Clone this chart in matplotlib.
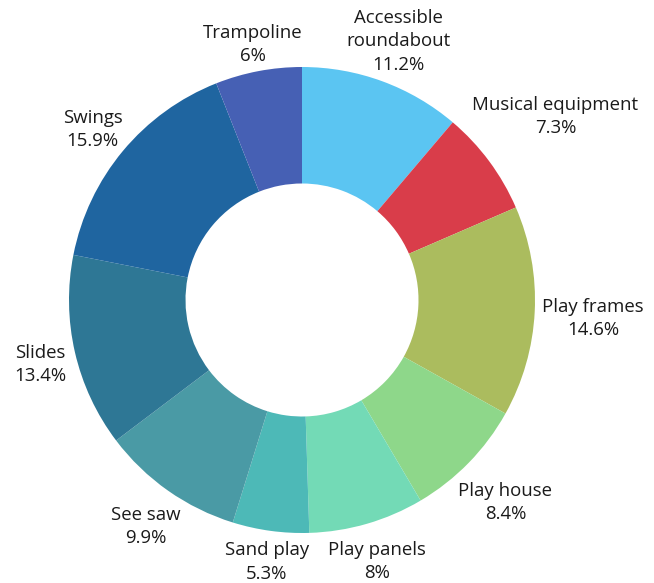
import numpy as np
import matplotlib
matplotlib.use("Agg")
import matplotlib.pyplot as plt

categories = ["Accessible\nroundabout", "Musical equipment", "Play frames", "Play house",
              "Play panels", "Sand play", "See saw", "Slides", "Swings", "Trampoline"]
shares = [11.2, 7.3, 14.6, 8.4, 8, 5.3, 9.9, 13.4, 15.9, 6]
share_labels = ["11.2%", "7.3%", "14.6%", "8.4%", "8%", "5.3%", "9.9%", "13.4%", "15.9%", "6%"]
colors = ["#5BC5F2", "#D93D4A", "#ABBC5E", "#8ED78A", "#73DAB6",
          "#4DB9B7", "#4A9AA5", "#2E7795", "#1F65A0", "#4660B4"]

W, H = 654, 583
DPI = 100
cx, cy = 302, 283          # ring centre in pixels (from bottom-left)
R_PX = 233                 # outer radius in pixels

plt.rcParams["font.family"] = ["Open Sans", "DejaVu Sans"]

fig = plt.figure(figsize=(W / DPI, H / DPI), dpi=DPI)
ax = fig.add_axes([0, 0, 1, 1])

wedges, _ = ax.pie(shares, colors=colors, startangle=90, counterclock=False,
                   radius=1.0, center=(0, 0), frame=False,
                   wedgeprops=dict(width=0.5, linewidth=0))
ax.set_xlim(-cx / R_PX, (W - cx) / R_PX)
ax.set_ylim(-cy / R_PX, (H - cy) / R_PX)
ax.set_aspect("auto")
ax.axis("off")

fig.canvas.draw()
renderer = fig.canvas.get_renderer()

total = sum(shares)
cum = 0.0
anchor_r = 240 / R_PX
baseline_drop = 4 / R_PX   # the text box centre sits a little above the glyphs
for name, val, lab in zip(categories, shares, share_labels):
    mid = (cum + val / 2) / total * 2 * np.pi   # clockwise from top
    cum += val
    dx, dy = np.sin(mid), np.cos(mid)
    t = ax.text(0, 0, f"{name}\n{lab}", ha="center", va="center",
                multialignment="center", fontsize=13.4, color="#1a1a1a",
                linespacing=1.37)
    bb = t.get_window_extent(renderer)
    push = (abs(dx) * bb.width / 2 + abs(dy) * bb.height * 0.36) / R_PX
    r = anchor_r + push
    t.set_position((r * dx, r * dy - baseline_drop))

fig.savefig("out.png", dpi=DPI)
